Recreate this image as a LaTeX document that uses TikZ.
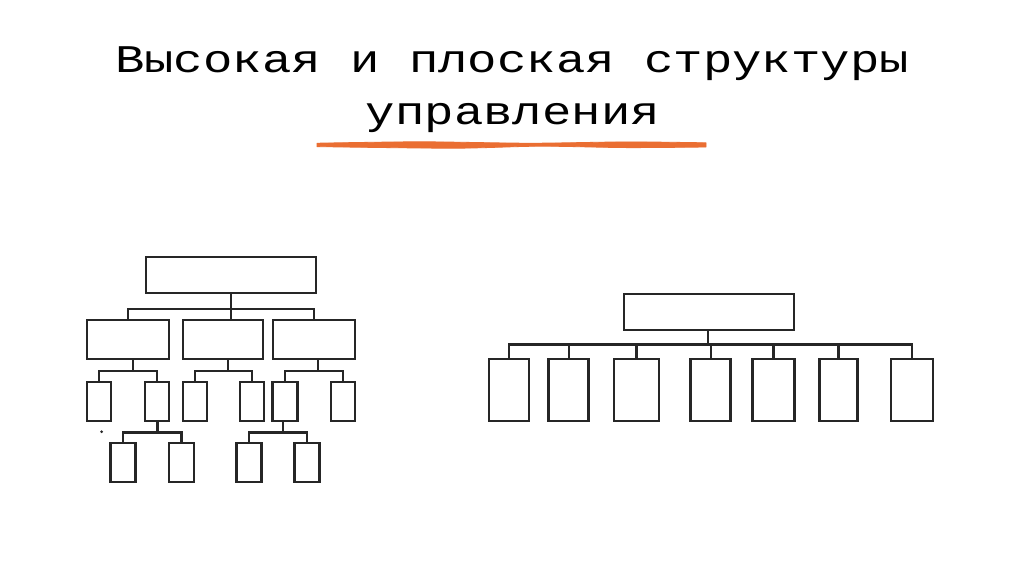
\documentclass[tikz,border=0pt]{standalone}
\usepackage{fontspec}
\setmonofont{Liberation Mono}
\usetikzlibrary{calc,positioning}

\definecolor{strokegray}{HTML}{262626}
\definecolor{brushorange}{HTML}{EA6E32}

\tikzset{
  unit/.style={draw=strokegray, line width=2.6pt, fill=white, inner sep=0pt},
  wire/.style={draw=strokegray, line width=2.4pt},
  heading/.style={font=\ttfamily\fontsize{49}{49}\selectfont, anchor=base, inner sep=0pt}
}

\begin{document}
\begin{tikzpicture}[x=1pt,y=-1pt]
  \useasboundingbox[fill=white] (0,0) rectangle (1024,574);

% title
\node[heading] (title1) at (512,72) {\scalebox{1}[0.8]{Высокая и плоская структуры}};
\node[heading] (title2) at (513,124) {\scalebox{1}[0.8]{управления}};
\fill[brushorange, draw=brushorange, line width=0.8pt, line join=round]
  plot[smooth] coordinates {(317,143.2) (420,141.8) (530,143.2) (627,141.9) (706,142.8)}
  -- plot[smooth] coordinates {(706,147) (627,147.6) (540,146.2) (453,148.2) (317,146.6)}
  -- cycle;

% high structure
\node[unit, minimum width=170, minimum height=36] (L0) at (231,275) {};
\node[unit, minimum width=82, minimum height=39] (L1) at (128,339.5) {};
\node[unit, minimum width=80, minimum height=39] (L2) at (223,339.5) {};
\node[unit, minimum width=82, minimum height=39] (L3) at (314,339.5) {};

\node[unit, minimum width=24, minimum height=39] (L11) at (99,401.5) {};
\node[unit, minimum width=24, minimum height=39] (L12) at (157,401.5) {};
\node[unit, minimum width=24, minimum height=39] (L21) at (195,401.5) {};
\node[unit, minimum width=24, minimum height=39] (L22) at (252,401.5) {};
\node[unit, minimum width=25, minimum height=39] (L31) at (285,401.5) {};
\node[unit, minimum width=24, minimum height=39] (L32) at (343,401.5) {};

\node[unit, minimum width=25, minimum height=39] (L121) at (123,462.5) {};
\node[unit, minimum width=25, minimum height=39] (L122) at (181.5,462.5) {};
\node[unit, minimum width=25, minimum height=39] (L311) at (249,462.5) {};
\node[unit, minimum width=25, minimum height=39] (L312) at (307,462.5) {};

\coordinate (Lbus0) at (231,309);
\coordinate (Lbus1) at (132.7,371);
\coordinate (Lbus2) at (228,371);
\coordinate (Lbus3) at (318,371);
\coordinate (Lbus12) at (157.3,432.3);
\coordinate (Lbus31) at (282.7,432.3);

\draw[wire] (L0.south) -- (L2.north -| L0.south);
\draw[wire] (L1.north) |- (Lbus0) -| (L3.north);
\draw[wire] (L1.south -| Lbus1) -- (Lbus1);
\draw[wire] (L11.north) |- (Lbus1) -| (L12.north);
\draw[wire] (L2.south -| Lbus2) -- (Lbus2);
\draw[wire] (L21.north) |- (Lbus2) -| (L22.north);
\draw[wire] (L3.south -| Lbus3) -- (Lbus3);
\draw[wire] (L31.north) |- (Lbus3) -| (L32.north);
\draw[wire] (L12.south -| Lbus12) -- (Lbus12);
\draw[wire] (L121.north) |- (Lbus12) -| (L122.north);
\draw[wire] (L31.south -| Lbus31) -- (Lbus31);
\draw[wire] (L311.north) |- (Lbus31) -| (L312.north);
\fill[strokegray] (101.7,431.7) circle (1.5);

% flat structure
\node[unit, minimum width=170, minimum height=36] (R0) at (709,312) {};
\foreach \i/\x/\w in {1/509/40, 2/568.7/40, 3/636.5/45, 4/710.7/40, 5/773.5/42, 6/838.5/38, 7/912/42}
  \node[unit, minimum width=\w, minimum height=62] (R\i) at (\x,390) {};

\coordinate (Rbus) at (707.7,344.3);
\draw[wire] (R0.south -| Rbus) -- (Rbus);
\draw[wire] (R1.north) |- (Rbus) -| (R7.north);
\foreach \i in {2,...,6}
  \draw[wire] (R\i.north) -- (R\i.north |- Rbus);

\end{tikzpicture}
\end{document}
